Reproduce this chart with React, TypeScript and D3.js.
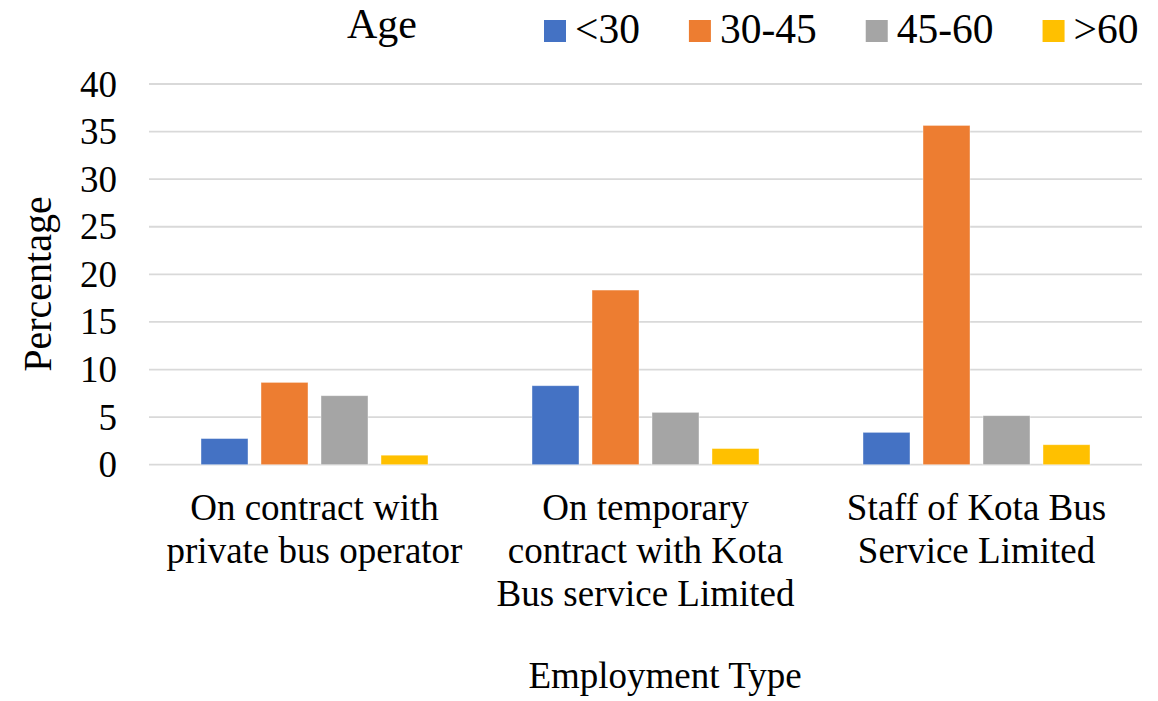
import React, { useEffect, useRef } from "react";
import * as d3 from "d3";

const categories: string[][] = [
  ["On contract with", "private bus operator"],
  ["On temporary", "contract with Kota", "Bus service Limited"],
  ["Staff of Kota Bus", "Service Limited"],
];
const seriesNames = ["<30", "30-45", "45-60", ">60"];
const seriesColors = ["#4472C4", "#ED7D31", "#A5A5A5", "#FFC000"];
const under30 = [2.75, 8.3, 3.4];
const age30to45 = [8.65, 18.35, 35.65];
const age45to60 = [7.25, 5.5, 5.15];
const over60 = [1.0, 1.7, 2.1];
const yTicks = [0, 5, 10, 15, 20, 25, 30, 35, 40];

const W = 1158;
const H = 701;
const FONT = "'Liberation Serif', 'Times New Roman', serif";

export default function App() {
  const ref = useRef<SVGSVGElement>(null);

  useEffect(() => {
    const svg = d3.select(ref.current);
    svg.selectAll("*").remove();

    const left = 149, right = 1142, top = 84, bottom = 464.7;
    const values = [under30, age30to45, age45to60, over60];
    const catIdx = categories.map((_, i) => String(i));

    const x0 = d3.scaleBand<string>().domain(catIdx).range([left, right]).padding(0);
    const x1 = d3
      .scaleBand<string>()
      .domain(seriesNames)
      .range([0, x0.bandwidth()])
      .paddingInner(13 / 60)
      .paddingOuter(0.8667);
    const y = d3.scaleLinear().domain([0, 40]).range([bottom, top]);

    // gridlines
    svg
      .append("g")
      .selectAll("line")
      .data(yTicks)
      .join("line")
      .attr("x1", left)
      .attr("x2", right)
      .attr("y1", (d) => y(d))
      .attr("y2", (d) => y(d))
      .attr("stroke", "#D9D9D9")
      .attr("stroke-width", 1.8);

    // y tick labels
    svg
      .append("g")
      .selectAll("text")
      .data(yTicks)
      .join("text")
      .attr("x", 117)
      .attr("y", (d) => y(d) + 12.5)
      .attr("text-anchor", "end")
      .attr("font-family", FONT)
      .attr("font-size", 37)
      .attr("fill", "#000")
      .text((d) => String(d));

    // bars
    const g = svg.append("g");
    categories.forEach((_, ci) => {
      seriesNames.forEach((s, si) => {
        const v = values[si][ci];
        g.append("rect")
          .attr("x", (x0(String(ci)) as number) + (x1(s) as number))
          .attr("y", y(v))
          .attr("width", x1.bandwidth())
          .attr("height", y(0) - y(v))
          .attr("fill", seriesColors[si])
          .attr("stroke", "#ffffff")
          .attr("stroke-opacity", 0.5)
          .attr("stroke-width", 0.8);
      });
    });

    // x category labels
    categories.forEach((lines, ci) => {
      const cx = (x0(String(ci)) as number) + x0.bandwidth() / 2;
      const t = svg
        .append("text")
        .attr("text-anchor", "middle")
        .attr("font-family", FONT)
        .attr("font-size", 37)
        .attr("fill", "#000");
      lines.forEach((ln, li) => {
        t.append("tspan").attr("x", cx).attr("y", 520 + li * 43).text(ln);
      });
    });

    // axis titles
    svg
      .append("text")
      .attr("x", 665)
      .attr("y", 688)
      .attr("text-anchor", "middle")
      .attr("font-family", FONT)
      .attr("font-size", 37)
      .text("Employment Type");

    svg
      .append("text")
      .attr("transform", `translate(51,284) rotate(-90)`)
      .attr("text-anchor", "middle")
      .attr("font-family", FONT)
      .attr("font-size", 40)
      .text("Percentage");

    // legend
    svg
      .append("text")
      .attr("x", 347)
      .attr("y", 38)
      .attr("font-family", FONT)
      .attr("font-size", 42)
      .text("Age");

    let lx = 544;
    seriesNames.forEach((s, si) => {
      svg
        .append("rect")
        .attr("x", lx)
        .attr("y", 20)
        .attr("width", 22)
        .attr("height", 22)
        .attr("fill", seriesColors[si]);
      const t = svg
        .append("text")
        .attr("x", lx + 31)
        .attr("y", 43)
        .attr("font-family", FONT)
        .attr("font-size", 41.5)
        .text(s);
      const w = (t.node() as SVGTextElement).getComputedTextLength();
      lx = lx + 31 + w + 49;
    });
  }, []);

  return (
    <svg
      ref={ref}
      width={W}
      height={H}
      style={{ position: "absolute", left: 0, top: 0, background: "#fff" }}
    />
  );
}
